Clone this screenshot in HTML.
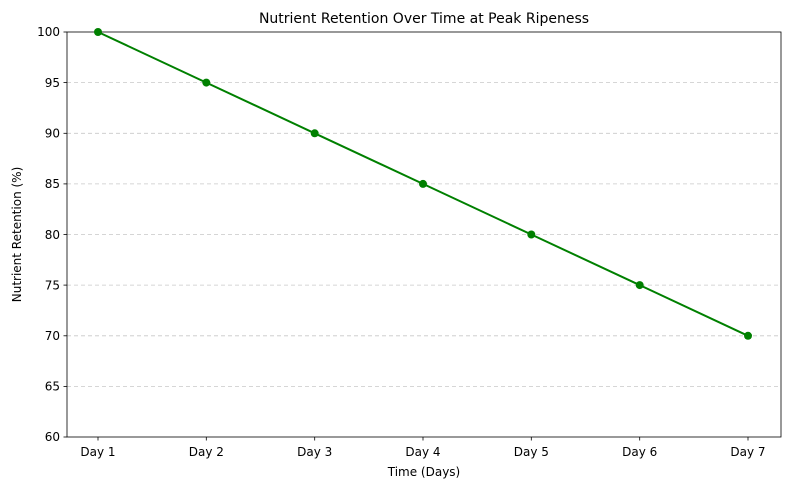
<!DOCTYPE html>
<html><head><style>body{margin:0;background:#fff}</style></head><body>
<svg width="790" height="490" xmlns="http://www.w3.org/2000/svg" font-family="DejaVu Sans, Liberation Sans, sans-serif">
<rect width="790" height="490" fill="#fff"/>
<g stroke="#c8c8c8" stroke-width="0.8" stroke-dasharray="4,3">
<line x1="67" x2="781" y1="82.6" y2="82.6"/><line x1="67" x2="781" y1="133.3" y2="133.3"/>
<line x1="67" x2="781" y1="183.9" y2="183.9"/><line x1="67" x2="781" y1="234.5" y2="234.5"/>
<line x1="67" x2="781" y1="285.1" y2="285.1"/><line x1="67" x2="781" y1="335.8" y2="335.8"/>
<line x1="67" x2="781" y1="386.4" y2="386.4"/>
</g>
<rect x="67" y="32" width="714" height="405" fill="none" stroke="#000" stroke-width="0.8"/>
<g stroke="#000" stroke-width="0.8">
<line x1="63.5" x2="67" y1="32" y2="32"/><line x1="63.5" x2="67" y1="82.6" y2="82.6"/><line x1="63.5" x2="67" y1="133.3" y2="133.3"/><line x1="63.5" x2="67" y1="183.9" y2="183.9"/><line x1="63.5" x2="67" y1="234.5" y2="234.5"/><line x1="63.5" x2="67" y1="285.1" y2="285.1"/><line x1="63.5" x2="67" y1="335.8" y2="335.8"/><line x1="63.5" x2="67" y1="386.4" y2="386.4"/><line x1="63.5" x2="67" y1="437" y2="437"/>
<line x1="98" x2="98" y1="437" y2="440.5"/><line x1="206.3" x2="206.3" y1="437" y2="440.5"/><line x1="314.7" x2="314.7" y1="437" y2="440.5"/><line x1="423" x2="423" y1="437" y2="440.5"/><line x1="531.3" x2="531.3" y1="437" y2="440.5"/><line x1="639.7" x2="639.7" y1="437" y2="440.5"/><line x1="748" x2="748" y1="437" y2="440.5"/>
</g>
<g font-size="12" text-anchor="end" fill="#000">
<text x="60" y="36">100</text><text x="60" y="87">95</text><text x="60" y="137.5">90</text><text x="60" y="188">85</text><text x="60" y="239">80</text><text x="60" y="289.5">75</text><text x="60" y="340">70</text><text x="60" y="390.5">65</text><text x="60" y="441">60</text>
</g>
<g font-size="12" text-anchor="middle" fill="#000">
<text x="98" y="456">Day 1</text><text x="206.3" y="456">Day 2</text><text x="314.7" y="456">Day 3</text><text x="423" y="456">Day 4</text><text x="531.3" y="456">Day 5</text><text x="639.7" y="456">Day 6</text><text x="748" y="456">Day 7</text>
<text x="424" y="476">Time (Days)</text>
<text x="424" y="23" font-size="14">Nutrient Retention Over Time at Peak Ripeness</text>
<text transform="translate(21,234.5) rotate(-90)">Nutrient Retention (%)</text>
</g>
<polyline points="98,32 206.3,82.6 314.7,133.3 423,183.9 531.3,234.5 639.7,285.1 748,335.8" fill="none" stroke="#008000" stroke-width="2"/>
<g fill="#008000">
<circle cx="98" cy="32" r="4"/><circle cx="206.3" cy="82.6" r="4"/><circle cx="314.7" cy="133.3" r="4"/><circle cx="423" cy="183.9" r="4"/><circle cx="531.3" cy="234.5" r="4"/><circle cx="639.7" cy="285.1" r="4"/><circle cx="748" cy="335.8" r="4"/>
</g>
</svg>
</body></html>
